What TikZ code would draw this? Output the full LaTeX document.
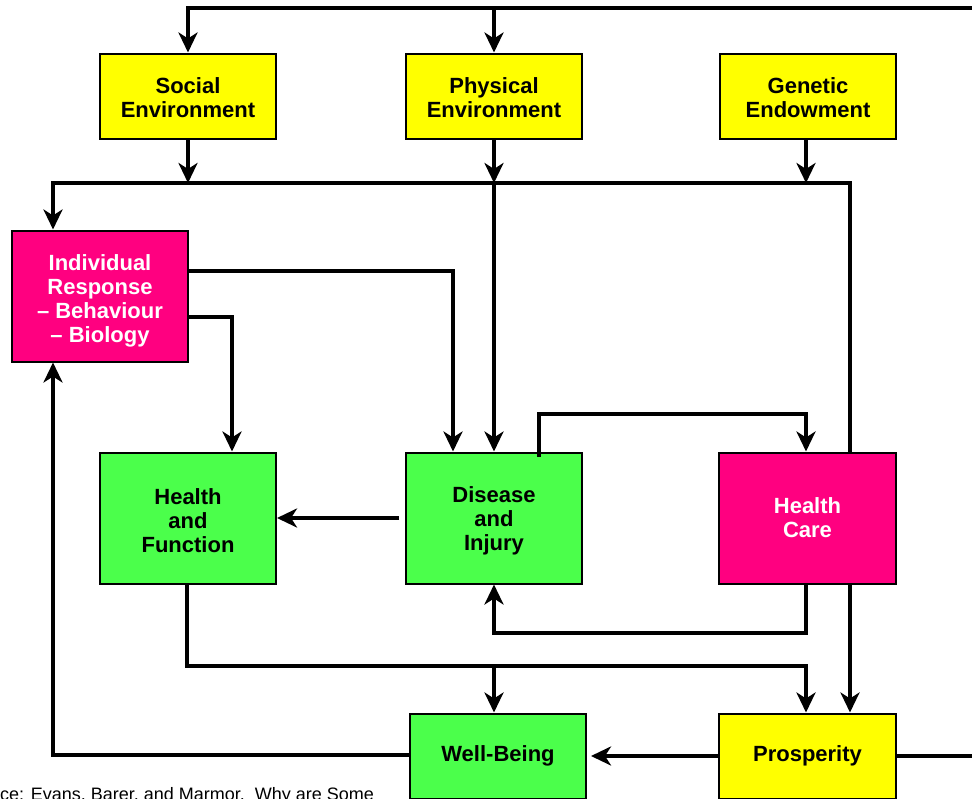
\documentclass[tikz,border=0pt]{standalone}
\usepackage{fontspec}
\setmainfont{Liberation Sans}
\usetikzlibrary{arrows.meta}
\definecolor{boxyellow}{HTML}{FFFF00}
\definecolor{boxgreen}{HTML}{4BFF4B}
\definecolor{boxpink}{HTML}{FF0080}
\newcommand{\lowerby}[1]{\rule{0pt}{\dimexpr16pt+#1\relax}}
\tikzset{
  box/.style={draw=black, line width=2pt, minimum width=176pt, align=center,
    font=\fontsize{22}{24}\selectfont\bfseries, inner sep=0pt},
  ybox/.style={box, fill=boxyellow, minimum height=85pt},
  gbox/.style={box, fill=boxgreen, minimum height=131pt},
  pbox/.style={box, fill=boxpink, minimum height=131pt, text=white},
  conn/.style={line width=4pt, line join=miter},
  arr/.style={conn, -{Stealth[length=20pt,width=19pt,inset=6pt]}},
}
\begin{document}
\begin{tikzpicture}[x=1pt,y=-1pt]
\useasboundingbox (0,0) rectangle (972,798);
\clip (0,0) rectangle (972,798);
% bus levels
\coordinate (tb) at (0,8);
\coordinate (mb) at (0,183);
\coordinate (lb) at (0,666);
\coordinate (rx) at (990,0);
\coordinate (lw) at (53,755);
% nodes
\node[ybox] (soc) at (188,96) {\lowerby{3pt}Social\\Environment};
\node[ybox] (phy) at (494,96) {\lowerby{3pt}Physical\\Environment};
\node[ybox] (gen) at (808,96) {\lowerby{3pt}Genetic\\Endowment};
\node[pbox] (ind) at (100,296) {\lowerby{10pt}Individual\\Response\\-- Behaviour\\-- Biology};
\node[gbox] (hf) at (188,518) {\lowerby{6pt}Health\\and\\Function};
\node[gbox] (dis) at (494,518) {\lowerby{6pt}Disease\\and\\Injury};
\node[pbox, minimum width=177pt] (hc) at (807.5,518) {Health\\Care};
\node[gbox, minimum height=85pt] (wb) at (498,756) {Well-Being};
\node[ybox, minimum width=177pt] (pro) at (807.5,756) {Prosperity};
% footer
\node[anchor=base west, inner sep=0pt, font=\fontsize{18}{20}\selectfont] (src) at (0,800) {ce: Evans, Barer, and Marmor.\ \ Why are Some};
% connectors
\draw[arr] (pro.east) -- (pro.east -| rx) -- (rx |- tb) -| (soc.north);
\draw[arr] (phy.north |- tb) -- (phy.north);
\draw[arr] (soc.south) -- (soc.south |- mb);
\draw[arr] (phy.south) -- (phy.south |- mb);
\draw[arr] ([xshift=-2]gen.south) -- ([xshift=-2]gen.south |- mb);
\draw[arr] ([xshift=42.5]hc.north) -- ([xshift=42.5]hc.north |- mb) -| ([xshift=-47]ind.north);
\draw[arr] (phy.south |- mb) -- (dis.north);
\draw[arr] ([yshift=25.5]ind.east) -| ([xshift=-41]dis.north);
\draw[arr] ([yshift=-20.5]ind.east) -| ([xshift=44]hf.north);
\draw[arr] ([xshift=-6]dis.west) -- (hf.east);
\draw[arr] ([xshift=45,yshift=-5]dis.north) -- ++(0,-43) -| ([xshift=-1.5]hc.north);
\draw[arr] ([xshift=-1.5]hc.south) -- ++(0,48) -| (dis.south);
\draw[arr] ([xshift=42.5]hc.south) -- ([xshift=42.5]pro.north);
\draw[arr] ([xshift=-1]hf.south) |- ([xshift=-1.5]pro.north |- lb) -- ([xshift=-1.5]pro.north);
\draw[arr] ([xshift=-4]wb.north |- lb) -- ([xshift=-4]wb.north);
\draw[arr] (pro.west) -- ([xshift=4]wb.east);
\draw[arr] (wb.west |- lw) -- (lw) -- ([xshift=-47]ind.south);
\end{tikzpicture}
\end{document}
